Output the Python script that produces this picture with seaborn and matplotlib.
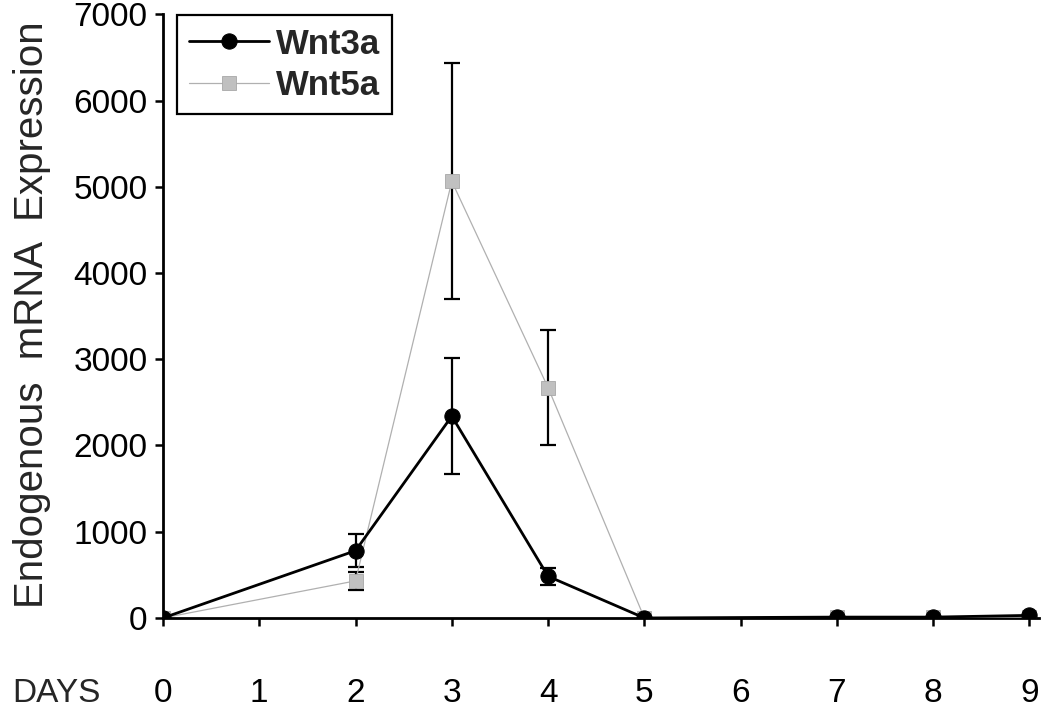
import numpy as np
import pandas as pd
import matplotlib
matplotlib.use("Agg")
import matplotlib.pyplot as plt
import seaborn as sns

days = [0, 2, 3, 4, 5, 7, 8, 9]
wnt3a = [0, 780, 2340, 483, 0, 10, 10, 30]
wnt3a_err = [0, 192, 670, 100, 0, 0, 0, 0]
wnt5a = [0, 430, 5063, 2671, 0, 10, 10, 10]
wnt5a_err = [0, 100, 1367, 666, 0, 0, 0, 0]
xticks = list(range(10))
yticks = [0, 1000, 2000, 3000, 4000, 5000, 6000, 7000]

sns.set_style("ticks")
plt.rcParams['font.family'] = ['Liberation Sans', 'DejaVu Sans']

fig = plt.figure(figsize=(10.48, 7.14), dpi=100)
ax = fig.add_axes([0.1555, 0.1345, 0.836, 0.8455])

d = np.array(days)
a3 = np.array(wnt3a); e3 = np.array(wnt3a_err)
a5 = np.array(wnt5a); e5 = np.array(wnt5a_err)

# error bars
m3 = e3 > 0
m5 = e5 > 0
ax.errorbar(d[m5], a5[m5], yerr=e5[m5], fmt='none', ecolor='black',
            elinewidth=1.6, capsize=5.5, capthick=1.6, zorder=2)
ax.errorbar(d[m3], a3[m3], yerr=e3[m3], fmt='none', ecolor='black',
            elinewidth=1.6, capsize=5.5, capthick=1.6, zorder=2)

sns.lineplot(x=days, y=wnt5a, ax=ax, color='#b0b0b0', linewidth=0.9,
             marker='s', markersize=10, markerfacecolor='#c0c0c0',
             markeredgecolor='#a8a8a8', markeredgewidth=0.6,
             label='Wnt5a', zorder=3)
sns.lineplot(x=days, y=wnt3a, ax=ax, color='black', linewidth=2.0,
             marker='o', markersize=11, markerfacecolor='black',
             markeredgecolor='black', label='Wnt3a', zorder=4)

ax.set_xlim(0, 9.1)
ax.set_ylim(0, 7000)
ax.set_xticks(xticks)
ax.set_xticklabels([str(t) for t in xticks])
ax.set_yticks(yticks)
ax.set_yticklabels([str(t) for t in yticks])

for s in ['top', 'right']:
    ax.spines[s].set_visible(False)
for s in ['left', 'bottom']:
    ax.spines[s].set_linewidth(2.0)
    ax.spines[s].set_color('black')
ax.spines['bottom'].set_zorder(1)

ax.tick_params(axis='y', direction='out', length=6, width=1.8, labelsize=24, pad=5, colors='black')
ax.tick_params(axis='x', direction='out', length=6, width=1.8, labelsize=24, pad=37, colors='black')

ax.set_ylabel('')
ax.set_xlabel('')
fig.text(0.012, 0.559, 'Endogenous  mRNA  Expression', fontsize=29, rotation=90,
         ha='left', va='center')
fig.text(0.012, 0.0168, 'DAYS', fontsize=24, ha='left', va='baseline')

h, l = ax.get_legend_handles_labels()
order = [l.index('Wnt3a'), l.index('Wnt5a')]
leg = ax.legend([h[i] for i in order], [l[i] for i in order],
                loc='upper left', bbox_to_anchor=(0.016, 0.998), borderaxespad=0,
                prop={'size': 25, 'weight': 'bold'}, frameon=True, fancybox=False,
                edgecolor='black', framealpha=1, handlelength=2.3, handletextpad=0.2,
                borderpad=0.35, labelspacing=0.25)
leg.get_frame().set_linewidth(1.6)

fig.savefig('out.png', dpi=100)
